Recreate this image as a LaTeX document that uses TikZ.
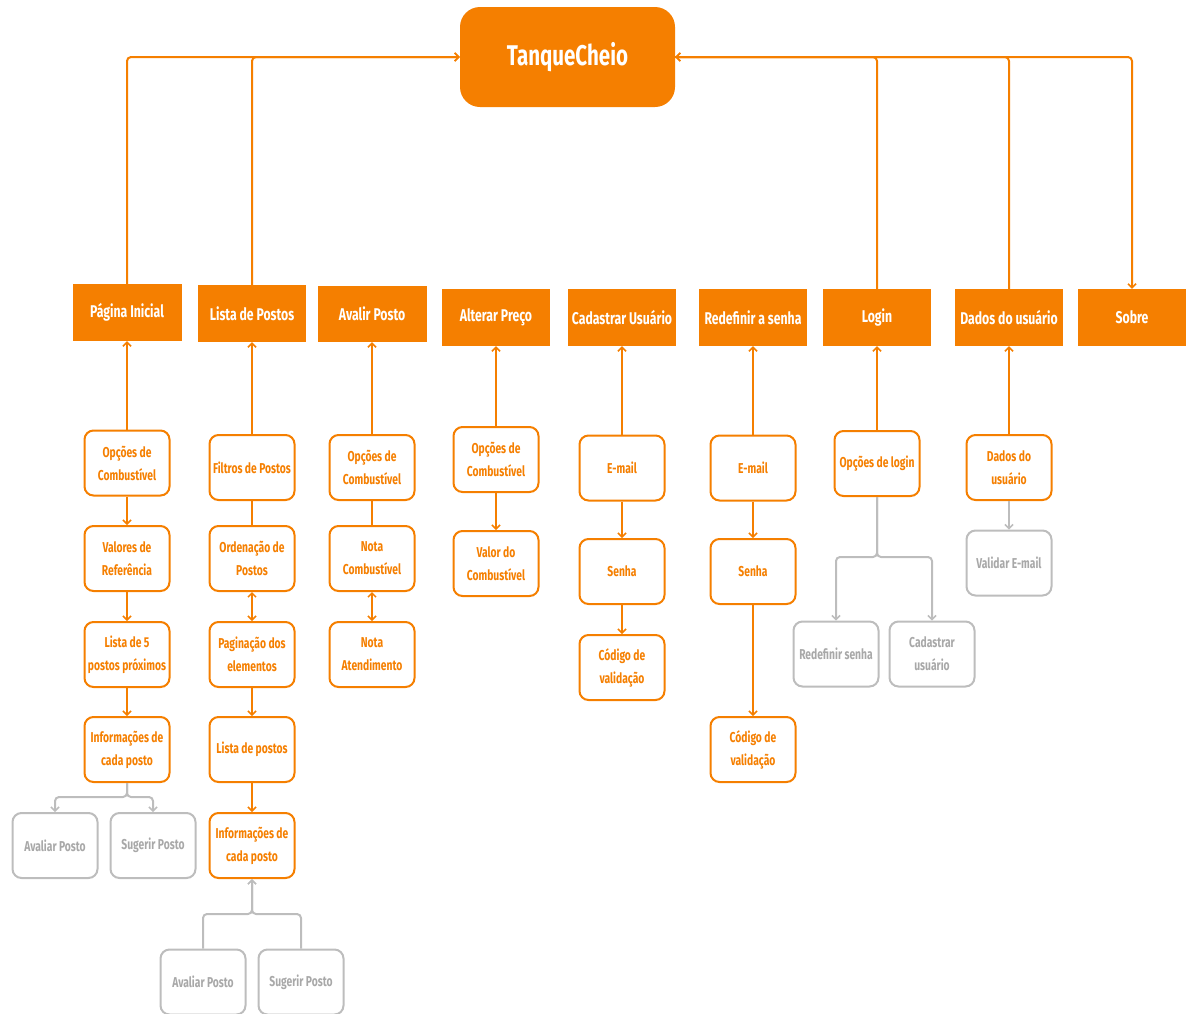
\documentclass[tikz,border=0pt]{standalone}
\usepackage{fontspec}
\setmainfont{Fira Sans}[FakeStretch=0.72]
\usetikzlibrary{arrows.meta}
\definecolor{org}{HTML}{F57F00}
\definecolor{gry}{HTML}{BDBDBD}
\definecolor{gtx}{HTML}{A8A8A8}
\tikzset{
  head/.style={fill=org, text=white, minimum width=108pt, minimum height=57pt, inner sep=0pt, font=\bfseries\fontsize{17}{19}\selectfont},
  box/.style={draw=org, line width=2pt, rounded corners=9pt, fill=white, text=org, minimum width=85pt, minimum height=65pt, inner sep=1pt, align=center, font=\bfseries\fontsize{14.3}{23}\selectfont},
  gbox/.style={box, draw=gry, text=gtx},
  conn/.style={draw=org, line width=2pt, rounded corners=4pt, -{Straight Barb[length=4pt,width=8pt,line width=1.5pt]}},
  plain/.style={draw=org, line width=2pt},
  dbl/.style={draw=org, line width=2pt, {Straight Barb[length=4pt,width=8pt,line width=1.5pt]}-{Straight Barb[length=4pt,width=8pt,line width=1.5pt]}},
  gconn/.style={draw=gry, line width=2pt, rounded corners=4pt, -{Straight Barb[length=4pt,width=8pt,line width=1.5pt]}},
}
\begin{document}
\begin{tikzpicture}[x=1pt,y=-1pt]
\useasboundingbox (0,0) rectangle (1187,1013);
% root
\node[fill=org, text=white, rounded corners=20pt, minimum width=215pt, minimum height=100pt, font=\bfseries\fontsize{28.5}{30}\selectfont] (tc) at (567.5,57) {TanqueCheio};
% headers
\node[head, minimum width=109pt] (pi) at (127,312.5) {Página Inicial};
\node[head] (lp) at (252,313.5) {Lista de Postos};
\node[head, minimum width=109pt, minimum height=56pt] (ap) at (372,314) {Avalir Posto};
\node[head] (alt) at (496,317.5) {Alterar Preço};
\node[head] (cad) at (622,317.5) {Cadastrar Usuário};
\node[head] (red) at (753,317.5) {Redefinir a senha};
\node[head] (log) at (877,317.5) {Login};
\node[head] (dad) at (1009,317.5) {Dados do usuário};
\node[head] (sob) at (1132,317.5) {Sobre};
% column 1
\node[box] (a1) at (127,463) {Opções de\\Combustível};
\node[box] (a2) at (127,558.5) {Valores de\\Referência};
\node[box] (a3) at (127,654.5) {Lista de 5\\postos próximos};
\node[box] (a4) at (127,749.5) {Informações de\\cada posto};
\node[gbox] (a5) at (55,845.5) {Avaliar Posto};
\node[gbox] (a6) at (153,845.5) {Sugerir Posto};
% column 2
\node[box] (b1) at (252,467.5) {Filtros de Postos};
\node[box] (b2) at (252,558.5) {Ordenação de\\Postos};
\node[box] (b3) at (252,654.5) {Paginação dos\\elementos};
\node[box] (b4) at (252,749.5) {Lista de postos};
\node[box] (b5) at (252,845.5) {Informações de\\cada posto};
\node[gbox] (b6) at (203,982) {Avaliar Posto};
\node[gbox] (b7) at (301,982) {Sugerir Posto};
% column 3
\node[box] (c1) at (372,467.5) {Opções de\\Combustível};
\node[box] (c2) at (372,558.5) {Nota\\Combustível};
\node[box] (c3) at (372,654.5) {Nota\\Atendimento};
% column 4
\node[box] (d1) at (496,459.5) {Opções de\\Combustível};
\node[box] (d2) at (496,563.5) {Valor do\\Combustível};
% column 5
\node[box] (e1) at (622,468) {E-mail};
\node[box] (e2) at (622,571.5) {Senha};
\node[box] (e3) at (622,667.5) {Código de\\validação};
% column 6
\node[box] (f1) at (753,468) {E-mail};
\node[box] (f2) at (753,571.5) {Senha};
\node[box] (f3) at (753,749.5) {Código de\\validação};
% column 7
\node[box] (g1) at (877,463.5) {Opções de login};
\node[gbox] (g2) at (836,654) {Redefinir senha};
\node[gbox] (g3) at (932,654) {Cadastrar\\usuário};
% column 8
\node[box] (h1) at (1009,467.5) {Dados do\\usuário};
\node[gbox] (h2) at (1009,563) {Validar E-mail};
% fork coordinates
\coordinate (k1) at (127,797);
\coordinate (k2) at (252,914);
\coordinate (k7) at (877,557);
% top connectors
\draw[conn] (pi.north) |- (tc.west);
\draw[conn] (lp.north) |- (tc.west);
\draw[conn] (log.north) |- (tc.east);
\draw[conn] (dad.north) |- (tc.east);
\draw[conn] (tc.east) -| (sob.north);
% to headers
\draw[conn] (a1.north) -- (pi.south);
\draw[conn] (b1.north) -- (lp.south);
\draw[conn] (c1.north) -- (ap.south);
\draw[conn] (d1.north) -- (alt.south);
\draw[conn] (e1.north) -- (cad.south);
\draw[conn] (f1.north) -- (red.south);
\draw[conn] (g1.north) -- (log.south);
\draw[conn] (h1.north) -- (dad.south);
% column 1
\draw[conn] (a1) -- (a2);
\draw[conn] (a2) -- (a3);
\draw[conn] (a3) -- (a4);
\draw[gconn] (a4.south) -- (k1) -| (a5.north);
\draw[gconn] (a4.south) -- (k1) -| (a6.north);
% column 2
\draw[plain] (b1) -- (b2);
\draw[dbl] (b2) -- (b3);
\draw[conn] (b3) -- (b4);
\draw[conn] (b4) -- (b5);
\draw[gconn] (b6.north) |- (k2) -- (b5.south);
\draw[gconn] (b7.north) |- (k2) -- (b5.south);
% column 3
\draw[plain] (c1) -- (c2);
\draw[dbl] (c2) -- (c3);
% column 4
\draw[conn] (d1) -- (d2);
% column 5
\draw[conn] (e1) -- (e2);
\draw[conn] (e2) -- (e3);
% column 6
\draw[conn] (f1) -- (f2);
\draw[conn] (f2) -- (f3);
% column 7
\draw[gconn] (g1.south) -- (k7) -| (g2.north);
\draw[gconn] (g1.south) -- (k7) -| (g3.north);
% column 8
\draw[gconn] (h1) -- (h2);
\end{tikzpicture}
\end{document}
